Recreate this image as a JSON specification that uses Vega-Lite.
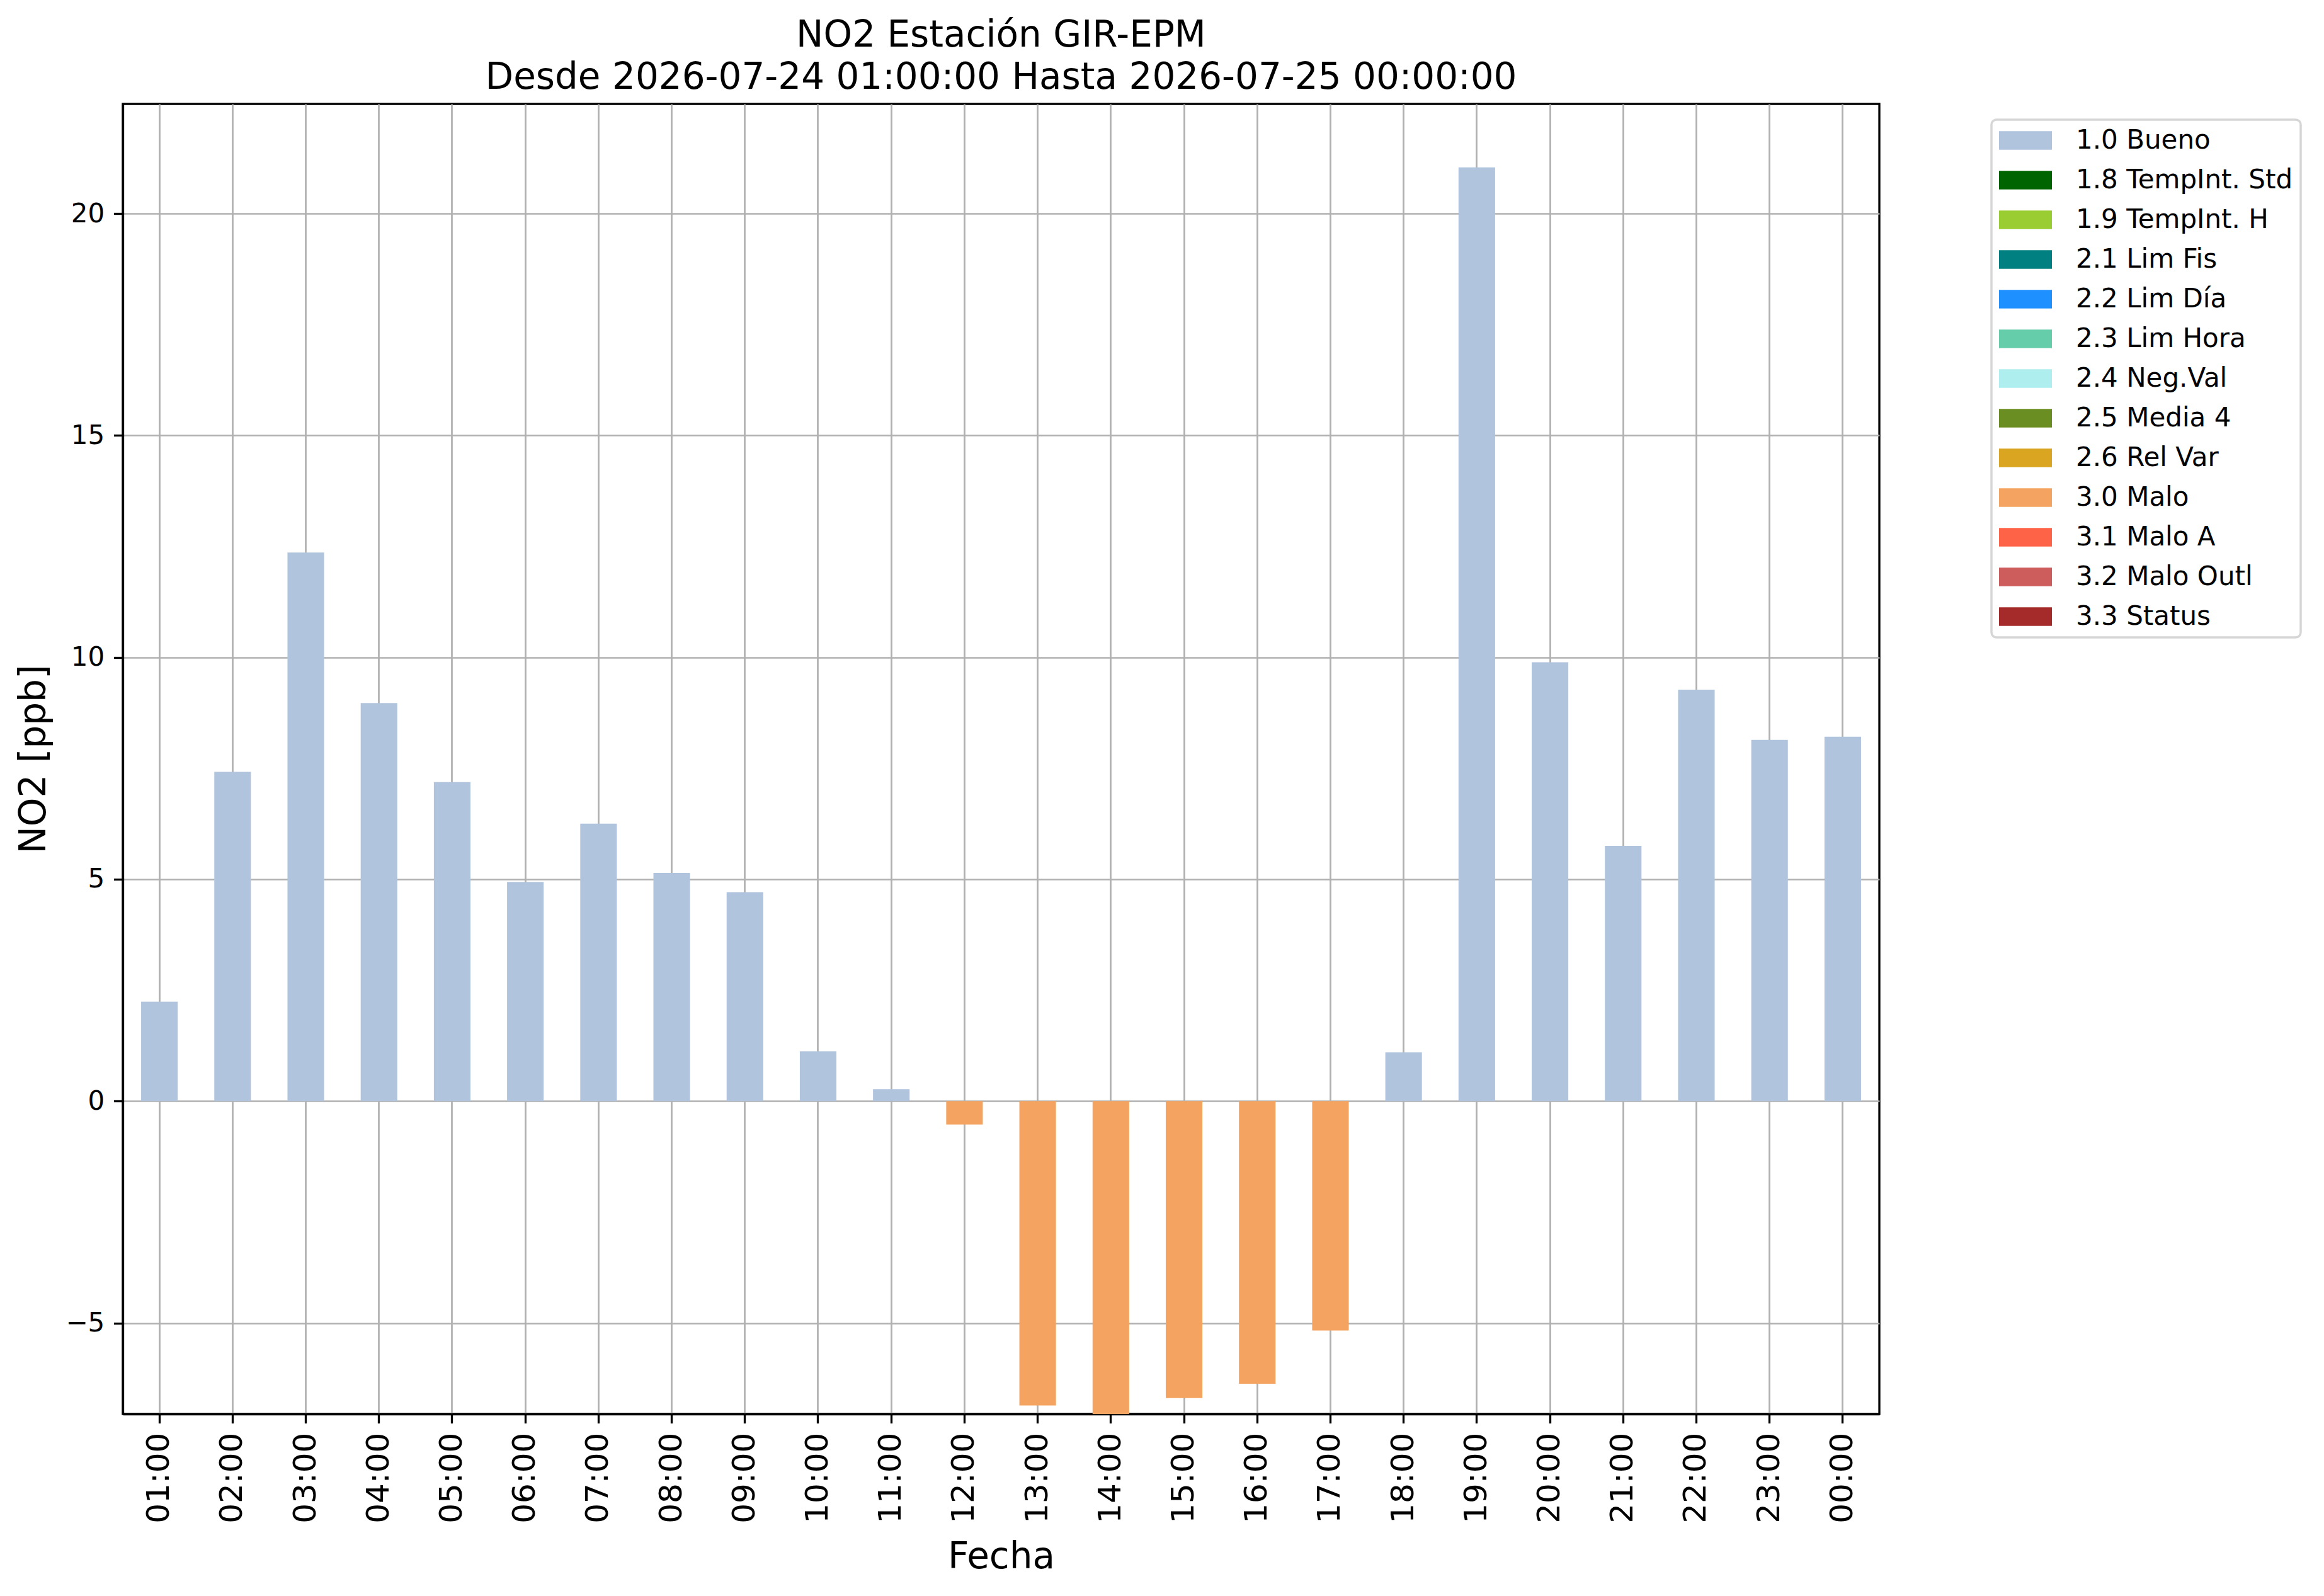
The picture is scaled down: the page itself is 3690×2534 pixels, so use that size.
{
  "$schema": "https://vega.github.io/schema/vega-lite/v6.json",
  "autosize": {"type": "none"},
  "padding": {"left": 195, "top": 165, "right": 706, "bottom": 289},
  "width": 2789,
  "height": 2080,
  "background": "white",
  "title": {
    "text": ["NO2 Estación GIR-EPM", "Desde 2026-07-24 01:00:00 Hasta 2026-07-25 00:00:00"],
    "anchor": "middle",
    "frame": "group",
    "fontSize": 58,
    "fontWeight": "normal",
    "font": "DejaVu Sans",
    "color": "black",
    "lineHeight": 67,
    "offset": 12
  },
  "data": {
    "values": [
      {"hora": "01:00", "no2": 2.24, "flag": "1.0 Bueno"},
      {"hora": "02:00", "no2": 7.42, "flag": "1.0 Bueno"},
      {"hora": "03:00", "no2": 12.36, "flag": "1.0 Bueno"},
      {"hora": "04:00", "no2": 8.97, "flag": "1.0 Bueno"},
      {"hora": "05:00", "no2": 7.19, "flag": "1.0 Bueno"},
      {"hora": "06:00", "no2": 4.94, "flag": "1.0 Bueno"},
      {"hora": "07:00", "no2": 6.25, "flag": "1.0 Bueno"},
      {"hora": "08:00", "no2": 5.14, "flag": "1.0 Bueno"},
      {"hora": "09:00", "no2": 4.71, "flag": "1.0 Bueno"},
      {"hora": "10:00", "no2": 1.12, "flag": "1.0 Bueno"},
      {"hora": "11:00", "no2": 0.27, "flag": "1.0 Bueno"},
      {"hora": "12:00", "no2": -0.53, "flag": "3.0 Malo"},
      {"hora": "13:00", "no2": -6.86, "flag": "3.0 Malo"},
      {"hora": "14:00", "no2": -7.3, "flag": "3.0 Malo"},
      {"hora": "15:00", "no2": -6.69, "flag": "3.0 Malo"},
      {"hora": "16:00", "no2": -6.37, "flag": "3.0 Malo"},
      {"hora": "17:00", "no2": -5.17, "flag": "3.0 Malo"},
      {"hora": "18:00", "no2": 1.1, "flag": "1.0 Bueno"},
      {"hora": "19:00", "no2": 21.04, "flag": "1.0 Bueno"},
      {"hora": "20:00", "no2": 9.89, "flag": "1.0 Bueno"},
      {"hora": "21:00", "no2": 5.75, "flag": "1.0 Bueno"},
      {"hora": "22:00", "no2": 9.27, "flag": "1.0 Bueno"},
      {"hora": "23:00", "no2": 8.14, "flag": "1.0 Bueno"},
      {"hora": "00:00", "no2": 8.21, "flag": "1.0 Bueno"}
    ]
  },
  "mark": {"type": "bar", "clip": true},
  "encoding": {
    "x": {
      "field": "hora",
      "type": "nominal",
      "sort": null,
      "scale": {"paddingInner": 0.5, "paddingOuter": 0.25},
      "axis": {
        "title": "Fecha",
        "titleFontSize": 58,
        "titleX": 1394.5,
        "titleY": 244,
        "titleBaseline": "alphabetic",
        "labelAngle": 270,
        "labelFontSize": 50,
        "bandPosition": 0.5
      }
    },
    "y": {
      "field": "no2",
      "type": "quantitative",
      "scale": {"domain": [-7.05, 22.47], "nice": false, "zero": false},
      "axis": {
        "title": "NO2 [ppb]",
        "titleFontSize": 58,
        "titleX": -124,
        "titleY": 1040,
        "titleAngle": 270,
        "titleAlign": "center",
        "titleBaseline": "alphabetic",
        "values": [-5, 0, 5, 10, 15, 20],
        "labelFontSize": 42
      }
    },
    "color": {
      "field": "flag",
      "type": "nominal",
      "scale": {
        "domain": ["1.0 Bueno", "1.8 TempInt. Std", "1.9 TempInt. H", "2.1 Lim Fis", "2.2 Lim Día", "2.3 Lim Hora", "2.4 Neg.Val", "2.5 Media 4", "2.6 Rel Var", "3.0 Malo", "3.1 Malo A", "3.2 Malo Outl", "3.3 Status"],
        "range": ["#b0c4de", "#006400", "#9acd32", "#008080", "#1e90ff", "#66cdaa", "#afeeee", "#6b8e23", "#daa520", "#f4a460", "#ff6347", "#cd5c5c", "#a52a2a"]
      },
      "legend": {
        "orient": "none",
        "legendX": 2967,
        "legendY": 25,
        "title": null,
        "values": ["1.0 Bueno", "1.8 TempInt. Std", "1.9 TempInt. H", "2.1 Lim Fis", "2.2 Lim Día", "2.3 Lim Hora", "2.4 Neg.Val", "2.5 Media 4", "2.6 Rel Var", "3.0 Malo", "3.1 Malo A", "3.2 Malo Outl", "3.3 Status"],
        "symbolType": "M-1,-0.35H1V0.35H-1Z",
        "symbolSize": 7056,
        "symbolStrokeWidth": 0,
        "symbolOpacity": 1,
        "labelFontSize": 42,
        "labelFont": "DejaVu Sans",
        "labelColor": "black",
        "labelOffset": 38,
        "labelLimit": 1000,
        "clipHeight": 42,
        "rowPadding": 21,
        "padding": 12,
        "strokeColor": "#d6d6d6",
        "fillColor": "white",
        "cornerRadius": 8,
        "encode": {"legend": {"update": {"strokeWidth": {"value": 3.5}}}}
      }
    }
  },
  "config": {
    "font": "DejaVu Sans",
    "view": {"stroke": "black", "strokeWidth": 3.3},
    "axis": {
      "zindex": 1,
      "labelFont": "DejaVu Sans",
      "labelColor": "black",
      "labelPadding": 14.6,
      "titleFont": "DejaVu Sans",
      "titleFontWeight": "normal",
      "titleColor": "black",
      "tickSize": 14.6,
      "tickWidth": 3.3,
      "tickColor": "black",
      "domainColor": "black",
      "domainWidth": 3.3,
      "grid": true,
      "gridColor": "#b0b0b0",
      "gridWidth": 2.7
    }
  }
}
